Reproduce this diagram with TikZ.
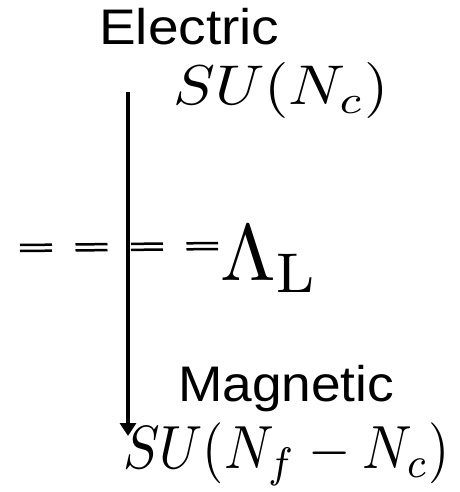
\documentclass[tikz,border=0pt]{standalone}
\usepackage{graphicx}
\usepackage{fontspec}
\newfontfamily\sansf{Liberation Sans}
\usetikzlibrary{arrows.meta}
\newcommand{\bigmath}[3]{\scalebox{#1}[#2]{$#3$}}
\newcommand{\widetext}[2]{\scalebox{#1}[1]{#2}}
\tikzset{
  sanslabel/.style={anchor=base west, inner sep=0pt, font=\sansf\fontsize{50}{60}\selectfont},
  mathlabel/.style={anchor=base west, inner sep=0pt},
  scaleline/.style={line width=2.5pt, dash pattern=on 32pt off 23.5pt},
  flowarrow/.style={line width=3.5pt, -{Triangle[length=13pt,width=16pt]}}
}
\begin{document}
\begin{tikzpicture}[x=1pt,y=-1pt]
\useasboundingbox (0,0) rectangle (459,492);
\node[sanslabel] (el) at (99,45) {\widetext{1.1}{Electric}};
\node[mathlabel] (su1) at (173,105) {\bigmath{6.25}{5.6}{SU(N_c)}};
\node[sanslabel] (mag) at (178,401) {\widetext{1.065}{Magnetic}};
\node[mathlabel] (su2) at (123,468) {\bigmath{5.45}{6.1}{SU(N_f-N_c)}};
\node[mathlabel] (lam) at (220,280) {\bigmath{8}{8}{\Lambda_{\rm L}}};
\coordinate (d1a) at (20,245);
\coordinate (d1b) at (218,243);
\coordinate (d2a) at (20,251);
\coordinate (d2b) at (218,249);
\draw[scaleline] (d1a) -- (d1b);
\draw[scaleline] (d2a) -- (d2b);
\coordinate (atop) at (128,92);
\coordinate (abot) at (128,436);
\draw[flowarrow] (atop) -- (abot);
\end{tikzpicture}
\end{document}
